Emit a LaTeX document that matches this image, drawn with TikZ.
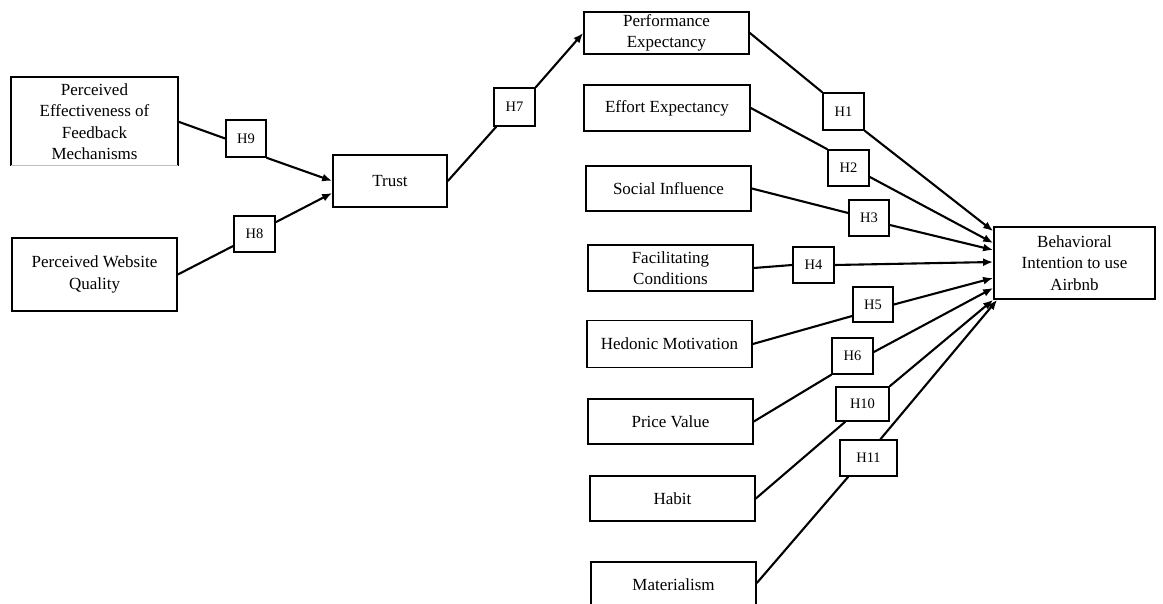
\documentclass[tikz,border=0pt]{standalone}
\usepackage{fontspec}
\setmainfont{Liberation Serif}
\usetikzlibrary{arrows.meta}
\begin{document}
\begin{tikzpicture}[x=1pt,y=-1pt,
  box/.style={draw=black,line width=1.7pt,rectangle,inner sep=0pt,align=center,
    font=\fontsize{17}{21.5}\selectfont},
  hyp/.style={draw=black,line width=1.7pt,rectangle,inner sep=0pt,fill=white,
    font=\fontsize{14.5}{17}\selectfont},
  link/.style={line width=2.1pt,line cap=round},
  arr/.style={link,-{Latex[length=10pt,width=8pt]}}]
\fill[white] (0,0) rectangle (1163,604);
\useasboundingbox (0,0) rectangle (1163,604);

% antecedents of trust
\node[box,draw=none,minimum width=165,minimum height=87] (pefm) at (94.5,121.5)
  {Perceived\\Effectiveness of\\Feedback\\Mechanisms};
\draw[line width=1.7pt] (pefm.south west) -- (pefm.north west) -- (pefm.north east) -- (pefm.south east);
\draw[line width=0.8pt,black!25] (pefm.south west) -- (pefm.south east);
\node[box,minimum width=165,minimum height=73] (pwq) at (94.5,274.5) {Perceived Website\\Quality};
\node[box,minimum width=114,minimum height=52] (trust) at (390,181) {Trust};

% UTAUT2 constructs
\node[box,minimum width=165,minimum height=42] (pe) at (666.5,33) {Performance\\Expectancy};
\node[box,minimum width=166,minimum height=46] (ee) at (667,108) {Effort Expectancy};
\node[box,minimum width=165,minimum height=45] (si) at (668.5,188.5) {Social Influence};
\node[box,minimum width=165,minimum height=46] (fc) at (670.5,268) {Facilitating\\Conditions};
\node[box,minimum width=165,minimum height=47] (hm) at (669.5,344) {Hedonic Motivation};
\node[box,minimum width=165,minimum height=45] (pv) at (670.5,421.5) {Price Value};
\node[box,minimum width=165,minimum height=45] (habit) at (672.5,498.5) {Habit};
\node[box,minimum width=165,minimum height=46] (mat) at (673.5,585) {Materialism};

% outcome
\node[box,minimum width=161,minimum height=72] (bi) at (1074.5,263)
  {Behavioral\\Intention to use\\Airbnb};

% hypothesis labels
\node[hyp,minimum width=40,minimum height=37] (h9) at (246,138.5) {H9};
\node[hyp,minimum width=41,minimum height=36] (h8) at (254.5,234) {H8};
\node[hyp,minimum width=41,minimum height=38] (h7) at (514.5,107) {H7};
\node[hyp,minimum width=41,minimum height=37] (h1) at (843.5,111.5) {H1};
\node[hyp,minimum width=41,minimum height=36] (h2) at (848.5,168) {H2};
\node[hyp,minimum width=40,minimum height=36] (h3) at (869,218) {H3};
\node[hyp,minimum width=41,minimum height=36] (h4) at (813.5,265) {H4};
\node[hyp,minimum width=40,minimum height=35] (h5) at (873,304.5) {H5};
\node[hyp,minimum width=41,minimum height=36] (h6) at (852.5,356) {H6};
\node[hyp,minimum width=53,minimum height=34] (h10) at (862.5,404) {H10};
\node[hyp,minimum width=57,minimum height=36] (h11) at (868.5,458) {H11};

% paths into trust and from trust
\draw[link] (pefm.east) -- (h9.west);
\draw[arr] (h9.south east) -- (trust.west);
\draw[link] (pwq.east) -- ([yshift=-12pt]h8.west);
\draw[arr] ([yshift=-7pt]h8.north east) -- ([yshift=-12pt]trust.west);
\draw[link] (trust.east) -- ([xshift=3pt]h7.south west);
\draw[arr] (h7.north east) -- (pe.west);

% paths into behavioral intention
\draw[link] (pe.east) -- (h1.north west);
\draw[arr] (h1.south east) -- ([yshift=-5pt]bi.north west);
\draw[link] (ee.east) -- (h2.north west);
\draw[arr] ([yshift=-9pt]h2.east) -- ([yshift=20pt]bi.west);
\draw[link] (si.east) -- ([yshift=5pt]h3.west);
\draw[arr] ([yshift=-7pt]h3.east) -- ([yshift=13pt]bi.west);
\draw[link] (fc.east) -- (h4.west);
\draw[arr] (h4.east) -- ([yshift=1pt]bi.west);
\draw[link] (hm.east) -- ([yshift=-11.5pt]h5.west);
\draw[arr] (h5.east) -- ([yshift=-15pt]bi.west);
\draw[link] (pv.east) -- (h6.south west);
\draw[arr] ([yshift=4pt]h6.east) -- ([yshift=-25pt]bi.west);
\draw[link] (habit.east) -- ([xshift=10pt]h10.south west);
\draw[arr] (h10.north east) -- (bi.south west);
\draw[link] ([yshift=2pt]mat.east) -- ([xshift=9pt]h11.south west);
\draw[arr] ([xshift=12pt]h11.north) -- ([xshift=4pt]bi.south west);
\end{tikzpicture}
\end{document}
